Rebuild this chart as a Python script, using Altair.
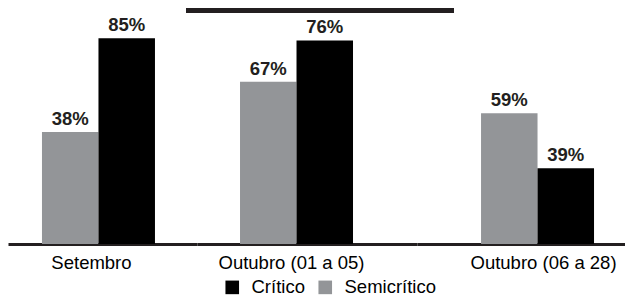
import altair as alt
import pandas as pd

# Categories (periods) and series
categorias = ["Setembro", "Outubro (01 a 05)", "Outubro (06 a 28)"]
series = ["Semicrítico", "Crítico"]

# Printed percentages
semicritico = [38, 67, 59]
critico = [85, 76, 39]

# Bar lengths as drawn in the source picture (the source drawing is not
# proportional to its printed labels), read off in the same % units
semicritico_desenho = [46.3, 67.0, 54.0]
critico_desenho = [85.0, 84.1, 31.3]

rows = []
for i, c in enumerate(categorias):
    rows.append({"cat": c, "serie": "Semicrítico", "valor": semicritico[i],
                 "altura": semicritico_desenho[i], "rotulo": f"{semicritico[i]}%"})
    rows.append({"cat": c, "serie": "Crítico", "valor": critico[i],
                 "altura": critico_desenho[i], "rotulo": f"{critico[i]}%"})
df = pd.DataFrame(rows)

FONT = "Liberation Sans"
TXT = "#231f20"
GRAY = "#939598"
H = 236
YDOM = [0, 97.5]

color_scale = alt.Scale(domain=["Crítico", "Semicrítico"], range=["#000000", GRAY])
legend = alt.Legend(
    title=None, orient="none", direction="horizontal",
    legendX=215, legendY=270,
    symbolType="square", symbolSize=185, symbolStrokeWidth=0,
    labelFontSize=18.5, labelFont=FONT, labelColor="#000000",
    labelOffset=10, columnPadding=11, padding=0,
)

# (width, paddingOuter, align, labelOffset) per panel
panel_cfg = [
    (189, 0.3363, 0.447, -7),
    (220, 0.4735, 0.402, -5),
    (208, 0.4204, 0.674, 6),
]

panels = []
for i, cat in enumerate(categorias):
    w, po, al, lo = panel_cfg[i]
    base = alt.Chart(df).transform_filter(alt.datum.cat == cat)
    x = alt.X("cat:N", title=None,
              scale=alt.Scale(paddingInner=0, paddingOuter=po, align=al),
              axis=alt.Axis(labelAngle=0, labelFontSize=18.5, labelFont=FONT,
                            labelColor="#000000", ticks=False, tickSize=0,
                            labelPadding=9, labelOffset=lo,
                            domainColor=TXT, domainWidth=3, grid=False))
    xo = alt.XOffset("serie:N", sort=series, scale=alt.Scale(paddingInner=0))
    y = alt.Y("altura:Q", scale=alt.Scale(domain=YDOM, nice=False, zero=True), axis=None)
    bars = base.mark_bar().encode(
        x=x, xOffset=xo, y=y,
        color=alt.Color("serie:N", scale=color_scale, legend=legend),
    )
    labels = base.mark_text(font=FONT, fontSize=18.5, fontWeight="bold",
                            color=TXT, baseline="alphabetic", dy=-7).encode(
        x=x, xOffset=xo, y=y, text="rotulo:N",
    )
    layers = [bars, labels]
    if i == 1:
        line = alt.Chart(df).mark_rule(color=TXT, strokeWidth=5).encode(
            x=alt.value(-11), x2=alt.value(220), y=alt.value(2.5)
        )
        layers.append(line)
    if i == 2:
        line = alt.Chart(df).mark_rule(color=TXT, strokeWidth=5).encode(
            x=alt.value(0), x2=alt.value(37), y=alt.value(2.5)
        )
        layers.append(line)
    panels.append(
        alt.layer(*layers).properties(
            width=w, height=H,
            view=alt.ViewBackground(strokeWidth=0, strokeOpacity=0, fillOpacity=0),
        )
    )

chart = (
    alt.hconcat(*panels, spacing=0, bounds="flush")
    .resolve_scale(x="independent", xOffset="independent", y="shared", color="shared")
    .properties(padding=0)
    .configure_view(strokeWidth=0, strokeOpacity=0)
    .configure_axisY(grid=False, domain=False, ticks=False)
    .configure(font=FONT)
)

chart.save("out.html", embed_options={"renderer": "svg", "actions": False})
